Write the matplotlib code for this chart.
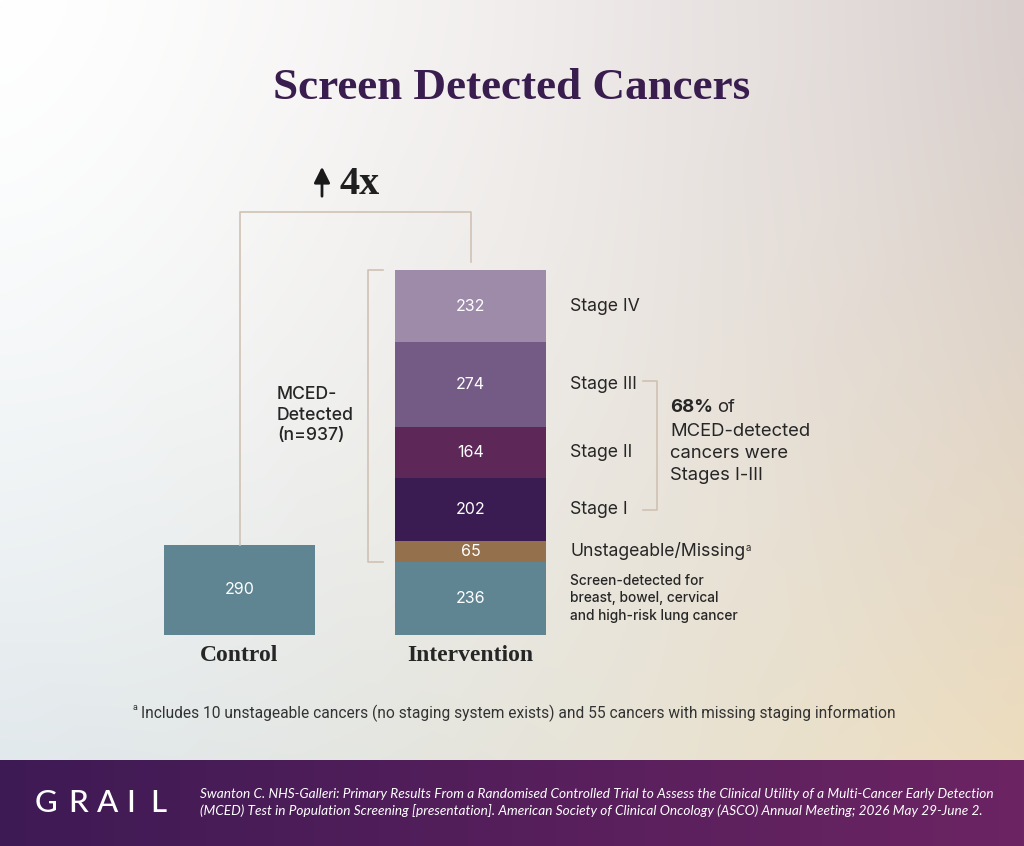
import numpy as np
import matplotlib.pyplot as plt

# data
groups = ['Control', 'Intervention']
control_total = 290
seg_labels = ['Screen-detected for\nbreast, bowel, cervical\nand high-risk lung cancer',
              'Unstageable/Missing', 'Stage I', 'Stage II', 'Stage III', 'Stage IV']
intervention = [236, 65, 202, 164, 274, 232]
seg_colors = ['#5f8592', '#94704d', '#3b1c52', '#5d2758', '#735b86', '#9d8ba9']
mced_n = 937
early_pct = 68
fold = '4x'

title = 'Screen Detected Cancers'
footnote = 'Includes 10 unstageable cancers (no staging system exists) and 55 cancers with missing staging information'
citation = ['Swanton C. NHS-Galleri: Primary Results From a Randomised Controlled Trial to Assess the Clinical Utility of a Multi-Cancer Early Detection',
            '(MCED) Test in Population Screening [presentation]. American Society of Clinical Oncology (ASCO) Annual Meeting; 2026 May 29-June 2.']

SANS = 'Inter'
SERIF = 'Liberation Serif'
DARK = '#262626'
LINE = '#cfc2b3'

fig = plt.figure(figsize=(10.24, 8.46), dpi=100)

# background in pixel coordinates
bg = fig.add_axes([0, 0, 1, 1])
bg.set_xlim(0, 1024)
bg.set_ylim(846, 0)
bg.axis('off')

tl = np.array([255, 255, 255]) / 255
tr = np.array([217, 208, 206]) / 255
bl = np.array([226, 233, 236]) / 255
br = np.array([237, 221, 190]) / 255
u = np.linspace(0, 1, 200)[None, :, None] ** 1.4
v = np.linspace(0, 1, 200)[:, None, None] ** 1.4
grad = (1 - v) * ((1 - u) * tl + u * tr) + v * ((1 - u) * bl + u * br)
bg.imshow(grad, extent=(0, 1024, 760, 0), aspect='auto', interpolation='bilinear', zorder=0)

fl = np.array([62, 26, 84]) / 255
fr = np.array([108, 36, 99]) / 255
uu = np.linspace(0, 1, 200)[None, :, None]
band = (1 - uu) * fl + uu * fr
bg.imshow(np.repeat(band, 2, axis=0), extent=(0, 1024, 846, 760), aspect='auto',
          interpolation='bilinear', zorder=0)

bg.text(512, 88, title, ha='center', va='center', fontsize=32.5, fontfamily=SERIF,
        fontweight='bold', color='#3a1d4f')

# bar axes: 231 px per category step, 0.3112 px per cancer
px_x, px_y = 231, 0.3112
ax = fig.add_axes([100 / 1024, 1 - 635 / 846, 660 / 1024, 1400 * px_y / 846])
ax.set_xlim((100 - 239.5) / px_x, (760 - 239.5) / px_x)
ax.set_ylim(0, 1400)
ax.patch.set_alpha(0)
for s in ax.spines.values():
    s.set_visible(False)
ax.set_yticks([])
ax.set_xticks([0, 1])
ax.set_xticklabels(groups, fontfamily=SERIF, fontweight='bold', fontsize=17, color=DARK)
ax.tick_params(axis='x', length=0, pad=7)

w = 151 / px_x
ax.bar(0, control_total, width=w, color=seg_colors[0])
ax.text(0, control_total / 2, str(control_total), ha='center', va='center',
        color='white', fontsize=11.5, fontfamily=SANS)

bottoms = np.concatenate([[0], np.cumsum(intervention)[:-1]])
ax.bar(1, intervention, bottom=bottoms, width=w, color=seg_colors)
centers = bottoms + np.array(intervention) / 2
for c, val in zip(centers, intervention):
    ax.text(1, c, str(val), ha='center', va='center', color='white',
            fontsize=11.5, fontfamily=SANS)

lab_x = (570 - 239.5) / px_x
for i, (c, lab) in enumerate(zip(centers, seg_labels)):
    if i == 0:
        ax.text(lab_x, c, lab, ha='left', va='center', fontsize=9.9, fontfamily=SANS,
                fontweight='medium', color=DARK, linespacing=1.3)
    elif i == 1:
        t = ax.text(lab_x, c, lab, ha='left', va='center', fontsize=12.7,
                    fontfamily=SANS, color=DARK)
    else:
        ax.text(lab_x, c, lab, ha='left', va='center', fontsize=12.7,
                fontfamily=SANS, color=DARK)

total = sum(intervention)

# 4x bracket from control to intervention
y_br = (635 - 212) / px_y
ax.plot([0, 0, 1, 1], [control_total, y_br, y_br, total + 25], color=LINE,
        lw=1.2, clip_on=False)

# MCED bracket
mx0, mx1 = (368 - 239.5) / px_x, (383 - 239.5) / px_x
mced_top = total
mced_bot = intervention[0]
ax.plot([mx1, mx0, mx0, mx1], [mced_top, mced_top, mced_bot, mced_bot], color=LINE,
        lw=1.2, clip_on=False)

# stage I-III bracket
sx0, sx1 = (643 - 239.5) / px_x, (657 - 239.5) / px_x
ax.plot([sx0, sx1, sx1, sx0], [centers[4] + 12, centers[4] + 12, centers[2], centers[2]],
        color=LINE, lw=1.2, clip_on=False)

# text annotations in pixel space
bg.annotate('', xy=(322, 164), xytext=(322, 199),
            arrowprops=dict(arrowstyle='-|>', lw=2.0, color='#1a1a1a', mutation_scale=24),
            zorder=5)
bg.text(339, 185, fold, ha='left', va='center', fontsize=29, fontfamily=SERIF,
        fontweight='bold', color='#1f1f1f', zorder=5)

bg.text(277, 415, 'MCED-\nDetected\n(n=%d)' % mced_n, ha='left', va='center',
        fontsize=12.7, fontfamily=SANS, fontweight='medium', color=DARK,
        linespacing=1.25, zorder=5)

fig.canvas.draw()
r = fig.canvas.get_renderer()
t68 = bg.text(670, 408, '%d%%' % early_pct, ha='left', va='center', fontsize=13.3,
              fontfamily=SANS, fontweight='bold', color=DARK, zorder=5)
bb = t68.get_window_extent(renderer=r)
bg.text(bb.x1 + 4, 408, 'of', ha='left', va='center', fontsize=13.3,
        fontfamily=SANS, color=DARK, zorder=5)
for k, line in enumerate(['MCED-detected', 'cancers were', 'Stages I-III']):
    bg.text(670, 431 + 22.5 * k, line, ha='left', va='center', fontsize=13.3,
            fontfamily=SANS, color=DARK, zorder=5)

# superscript after Unstageable/Missing
ub = t.get_window_extent(renderer=r)
bg.text(ub.x1 + 1, 846 - ub.y1 + 1, 'a', ha='left', va='top', fontsize=7,
        fontfamily=SANS, color=DARK, zorder=5)

bg.text(133, 708, 'a', ha='left', va='center', fontsize=6.5, fontfamily='Roboto',
        color='#333333', zorder=5)
bg.text(141, 713, footnote, ha='left', va='center', fontsize=11.2, fontfamily='Roboto',
        color='#333333', zorder=5)

# footer
for letter, xc in zip('GRAIL', [46, 78, 108, 131, 158]):
    bg.text(xc, 803, letter, ha='center', va='center', fontsize=22.5, fontfamily='Lato',
            fontweight='medium', color='white', zorder=5)
for k, line in enumerate(citation):
    bg.text(200, 794 + 17 * k, line, ha='left', va='center', fontsize=9.8,
            fontfamily='Lato', style='italic', color='white', zorder=5)

fig.savefig('out.png', dpi=100)
